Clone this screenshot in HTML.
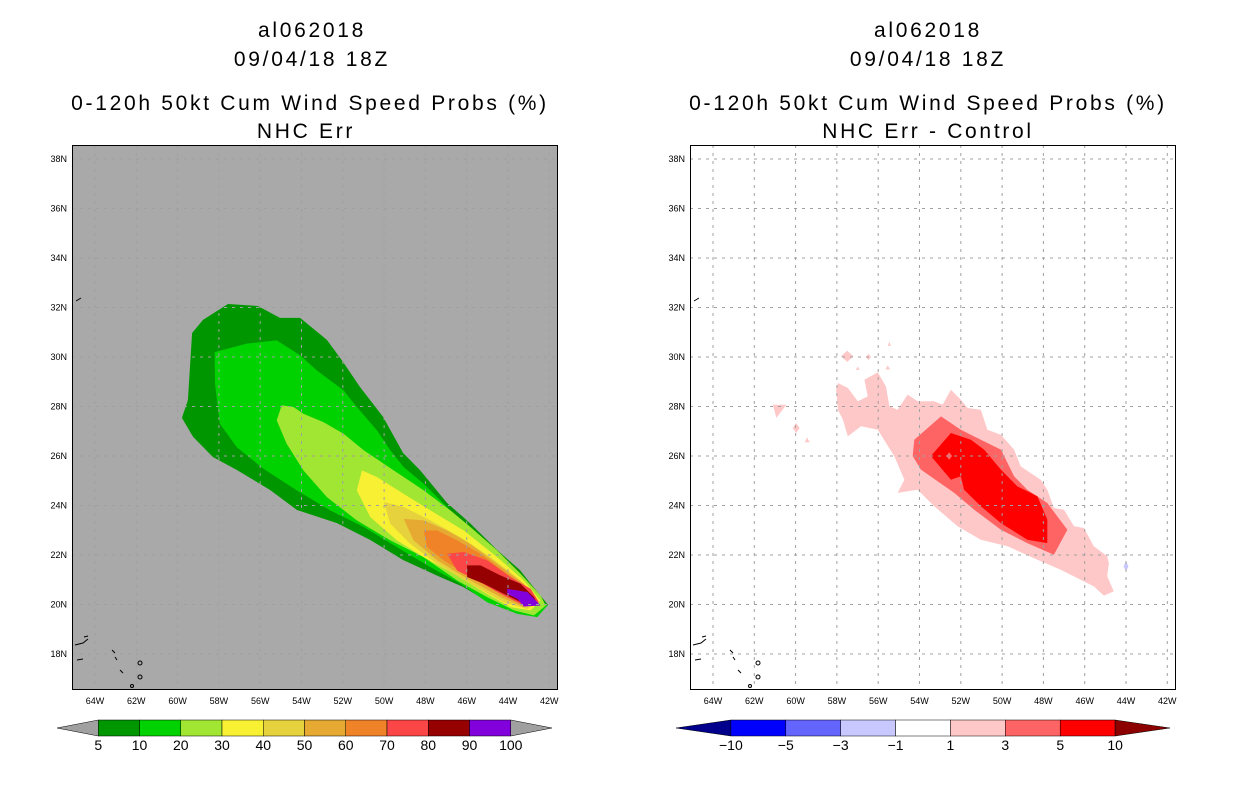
<!DOCTYPE html>
<html><head><meta charset="utf-8">
<style>
html,body{margin:0;padding:0;background:#fff;}
svg{display:block;font-family:"Liberation Sans",sans-serif;}
.tt text{letter-spacing:2.7px;}
</style></head>
<body>
<svg id="chart" width="1236" height="800" viewBox="0 0 1236 800" xmlns="http://www.w3.org/2000/svg">
<g class="tt" font-size="21" text-anchor="middle" fill="#000">
<text x="312" y="37">al062018</text>
<text x="312" y="66">09/04/18 18Z</text>
<text x="310" y="110">0-120h 50kt Cum Wind Speed Probs (%)</text>
<text x="306" y="138">NHC Err</text>
</g>
<g class="tt" font-size="21" text-anchor="middle" fill="#000">
<text x="928" y="37">al062018</text>
<text x="928" y="66">09/04/18 18Z</text>
<text x="928" y="110">0-120h 50kt Cum Wind Speed Probs (%)</text>
<text x="928" y="138">NHC Err - Control</text>
</g>
<g id="left"></g>
<g id="right"></g>
<g id="cbL"></g>
<g id="cbR"></g>
</svg>
<script>
const latTicks=[18,20,22,24,26,28,30,32,34,36,38];
const lonTicks=[64,62,60,58,56,54,52,50,48,46,44,42];
const probLevels=[5,10,20,30,40,50,60,70,80,90];
const probColors=["#009600","#00d200","#a0e632","#f8f032","#e6d23c","#e6aa32","#f08228","#fa4646","#960000","#8200dc"];
const probPolys=[
[[57.56,32.14],[56.11,32.06],[55.04,31.58],[54.07,31.58],[52.77,30.69],[51.99,29.8],[51.17,28.79],[50.05,27.58],[49.08,26.12],[48.26,25.43],[46.95,24.1],[45.84,23.29],[44.53,22.2],[43.42,21.39],[42.93,20.87],[42.06,19.98],[42.6,19.58],[43.56,19.66],[44.87,20.06],[46.18,20.71],[47.29,21.11],[49.08,21.8],[50.68,22.61],[52.28,23.29],[54.22,23.82],[55.53,24.63],[57.12,25.43],[58.29,25.96],[59.25,26.77],[59.79,27.54],[59.5,28.26],[59.3,30.97],[58.77,31.5]],
[[58.21,30.2],[56.66,30.54],[55.2,30.67],[54.07,30.07],[53.26,29.46],[51.96,28.65],[51.32,27.98],[50.35,27.04],[49.7,26.23],[49.05,25.55],[48.08,24.88],[46.95,23.94],[45.98,22.99],[44.84,22.05],[43.55,21.1],[42.58,20.3],[42.09,19.96],[42.58,19.49],[43.55,19.62],[45.01,20.09],[46.3,20.84],[47.76,21.51],[49.38,22.32],[50.99,23.13],[52.61,23.8],[54.23,24.61],[55.85,25.49],[57.14,26.36],[57.95,27.3],[58.19,28.92]],
[[54.96,28.05],[54.39,27.98],[53.91,27.71],[52.94,27.37],[51.96,26.9],[50.99,26.23],[50.02,25.69],[49.05,25.15],[48.08,24.61],[46.79,23.8],[45.82,23.13],[44.52,22.18],[43.39,21.24],[42.42,20.36],[42.17,19.96],[42.74,19.56],[43.71,19.76],[45.01,20.3],[46.46,20.97],[48.08,21.91],[49.7,22.59],[51.32,23.4],[52.77,24.34],[53.91,25.42],[54.72,26.5],[55.2,27.44]],
[[51.07,25.42],[50.35,25.15],[49.05,24.47],[47.76,23.8],[46.14,22.99],[44.52,21.91],[43.23,20.97],[42.42,20.16],[42.9,19.76],[43.87,19.89],[45.17,20.5],[46.62,21.24],[48.08,21.91],[49.38,22.59],[50.67,23.53],[51.32,24.61]],
[[50.02,24.14],[49.05,23.94],[47.76,23.4],[46.3,22.72],[44.84,21.91],[43.39,20.97],[42.58,20.16],[43.06,19.82],[44.2,20.09],[45.82,20.84],[47.43,21.64],[48.73,22.45],[49.7,23.26]],
[[49.05,23.46],[48.08,23.4],[46.95,22.99],[45.82,22.45],[44.52,21.64],[43.23,20.84],[42.58,20.09],[43.23,19.89],[44.36,20.3],[45.82,20.97],[47.43,21.78],[48.57,22.59]],
[[48.08,22.99],[47.43,22.99],[46.46,22.59],[45.33,22.05],[44.04,21.24],[42.9,20.57],[42.58,20.09],[43.23,19.96],[44.36,20.43],[45.82,21.11],[47.11,21.78],[47.92,22.32]],
[[46.95,22.05],[46.14,22.12],[45.01,21.78],[43.87,21.1],[42.9,20.63],[42.5,20.09],[43.23,19.96],[44.36,20.43],[45.49,20.97],[46.46,21.37]],
[[45.98,21.58],[45.33,21.58],[44.36,21.17],[43.39,20.84],[42.74,20.3],[42.58,20.03],[43.23,20.03],[44.2,20.43],[45.17,20.84],[45.98,21.11]],
[[44.04,20.63],[43.55,20.57],[43.06,20.5],[42.74,20.23],[42.42,19.96],[43.23,19.92],[43.55,20.23],[44.04,20.43]]
];
const diffLevels=[-10,-5,-3,-1,1,3,5,10];
const diffColors=["#00008c","#0000ff","#6464ff","#c8c8ff","#ffffff","#ffc8c8","#ff6464","#ff0000","#8c0000"];
const diffPolys=[
{c:5,p:[[57.95,28.95],[57.47,28.75],[56.99,28.21],[56.51,28.41],[56.67,29.08],[56.02,29.38],[55.62,28.81],[55.46,28.01],[55.06,27.87],[54.57,28.48],[54.09,28.21],[53.29,28.21],[52.88,28.07],[52.48,28.68],[52.0,28.28],[51.67,27.94],[51.03,27.87],[50.71,27.06],[50.06,26.86],[49.42,26.26],[49.1,25.58],[48.13,25.04],[47.81,24.64],[47.49,23.9],[47.0,23.83],[46.52,23.16],[46.04,23.09],[45.56,22.35],[44.91,21.95],[44.83,21.68],[44.91,21.14],[44.59,20.53],[45.07,20.36],[45.56,20.73],[46.2,21.0],[47.17,21.41],[48.29,21.81],[49.74,22.35],[51.03,22.62],[52.16,23.16],[53.29,23.97],[54.09,24.64],[55.06,24.51],[54.73,25.04],[55.22,25.99],[56.02,27.06],[56.83,27.2],[57.47,26.79],[57.71,27.47],[57.95,27.87],[58.04,28.68]]},
{c:5,p:[[61.1,28.07],[60.45,28.07],[60.93,27.54]]},
{c:5,p:[[59.97,27.33],[59.8,27.13],[59.97,26.93],[60.14,27.13]]},
{c:5,p:[[59.44,26.75],[59.32,26.55],[59.56,26.55]]},
{c:5,p:[[57.5,30.25],[57.2,30.03],[57.5,29.8],[57.8,30.03]]},
{c:5,p:[[56.47,30.12],[56.35,30.0],[56.47,29.88],[56.6,30.0]]},
{c:5,p:[[55.46,30.62],[55.38,30.45],[55.54,30.45]]},
{c:5,p:[[56.99,29.62],[56.9,29.48],[57.08,29.48]]},
{c:5,p:[[55.54,29.66],[55.43,29.5],[55.65,29.5]]},
{c:6,p:[[52.96,27.6],[52.0,27.06],[51.03,26.66],[50.06,26.26],[49.42,25.18],[48.78,24.64],[47.81,24.1],[46.84,23.02],[47.49,22.01],[48.78,22.48],[50.06,23.02],[51.35,23.83],[52.32,24.51],[53.93,25.45],[54.33,26.0],[54.25,26.66]]},
{c:7,p:[[52.48,26.93],[51.51,26.66],[50.87,26.26],[50.06,25.45],[49.26,24.77],[48.29,24.37],[47.81,23.43],[47.81,22.48],[48.78,22.62],[50.06,23.29],[51.03,23.97],[51.84,24.64],[52.0,25.18],[52.48,25.04],[53.45,26.0]]},
{c:6,p:[[52.56,26.15],[52.42,26.0],[52.56,25.85],[52.7,26.0]]},
{c:3,p:[[44.0,21.75],[43.88,21.54],[44.0,21.35],[44.12,21.54]]}
];
const NS="http://www.w3.org/2000/svg";
function mk(tag,attrs,parent){const e=document.createElementNS(NS,tag);for(const k in attrs)e.setAttribute(k,attrs[k]);parent.appendChild(e);return e;}
function xS(x0){return W=>x0+20.65*(64-W);}
function yS(N){return 159+24.75*(38-N);}
function panel(g,x0,bg,gridCol,polys,colorOf){
  const X=xS(x0);
  const frameL=x0-23;
  const bgr=mk('rect',{x:frameL,y:145,width:486,height:545,fill:bg},g);
  
  
  const clipId='clip'+x0;
  const cp=mk('clipPath',{id:clipId},g);mk('rect',{x:frameL,y:145,width:486,height:545},cp);
  const cg=mk('g',{'clip-path':'url(#'+clipId+')'},g);
  polys.forEach((p,i)=>{
    const pts=p.pts.map(q=>X(q[0]).toFixed(1)+','+yS(q[1]).toFixed(1)).join(' ');
    const el=mk('polygon',{points:pts,fill:colorOf(p)},cg);
    
    
  });
  lonTicks.forEach(W=>{
    const gl=mk('line',{x1:X(W),x2:X(W),y1:145,y2:690,stroke:gridCol,'stroke-width':1,'stroke-dasharray':'3,5'},cg);
    
    
    const t=mk('text',{x:X(W),y:704,'font-size':9,'text-anchor':'middle'},g);t.textContent=W+'W';
    
    
  });
  latTicks.forEach(N=>{
    const gl=mk('line',{x1:frameL,x2:frameL+486,y1:yS(N),y2:yS(N),stroke:gridCol,'stroke-width':1,'stroke-dasharray':'3,5'},cg);
    
    
    const t=mk('text',{x:frameL-5,y:yS(N)+3,'font-size':9,'text-anchor':'end'},g);t.textContent=N+'N';
    
    
  });
  const cst=mk('g',{fill:'none',stroke:'#000','stroke-width':1},cg);
  
  
  mk('path',{d:`M${frameL+4} 301 l5 -3 M${frameL+3} 645 l8 -2 l5 -4 M${frameL+12} 637 l4 -1 M${frameL+5} 660 l6 -1 M${frameL+40} 650 l3 3 M${frameL+43} 657 l2 3 M${frameL+48} 670 l3 3`},cst);
  mk('circle',{cx:frameL+68,cy:663,r:2},cst);
  mk('circle',{cx:frameL+68,cy:677,r:2},cst);
  mk('circle',{cx:frameL+60,cy:686,r:1.5},cst);
  const fr=mk('rect',{x:frameL+0.5,y:145.5,width:485,height:544,fill:'none',stroke:'#000','stroke-width':1},g);
  
  
}
panel(document.getElementById('left'),95,'#a9a9a9','#a0a0a0',
  probPolys.map((p,i)=>({pts:p,i:i})),p=>probColors[p.i]);
panel(document.getElementById('right'),713,'#ffffff','#a0a0a0',
  diffPolys.map(d=>({pts:d.p,c:d.c})),p=>diffColors[p.c]);

function colorbar(g,x0,x1,levels,colors,leftTri,rightTri){
  const n=levels.length;
  const step=(x1-x0)/(n+1);
  const y0=720,h=16;
  const lt=mk('polygon',{points:`${x0},${y0+h/2} ${x0+step},${y0} ${x0+step},${y0+h}`,fill:leftTri,stroke:'#000','stroke-width':0.5},g);
  
  
  for(let i=0;i<n-1;i++){
    const r=mk('rect',{x:x0+step*(i+1),y:y0,width:step,height:h,fill:colors[i],stroke:'#000','stroke-width':0.5},g);
    
    
  }
  const rt=mk('polygon',{points:`${x0+step*n},${y0} ${x1},${y0+h/2} ${x0+step*n},${y0+h}`,fill:rightTri,stroke:'#000','stroke-width':0.5},g);
  
  
  levels.forEach((v,i)=>{
    const t=mk('text',{x:x0+step*(i+1),y:750,'font-size':14,'text-anchor':'middle'},g);
    t.textContent=v<0?'\u2212'+(-v):String(v);
    
    
  });
}
colorbar(document.getElementById('cbL'),57,552,[5,10,20,30,40,50,60,70,80,90,100],probColors,'#a0a0a0','#a0a0a0');
colorbar(document.getElementById('cbR'),676,1170,diffLevels,diffColors.slice(1),diffColors[0],diffColors[8]);
</script>
</body></html>
